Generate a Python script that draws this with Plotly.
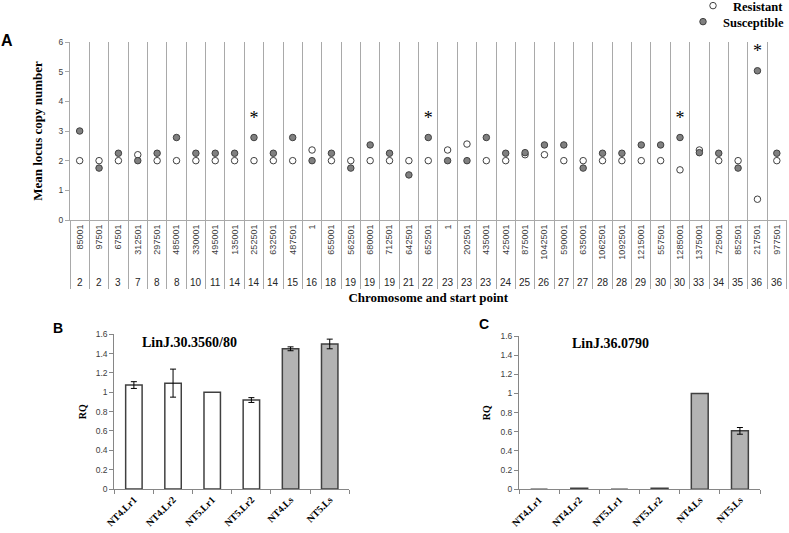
import numpy as np
import plotly.graph_objects as go

# ---------------- data ----------------
starts = ["85001", "97501", "67501", "312501", "297501", "485001", "330001", "495001",
          "135001", "252501", "632501", "487501", "1", "655001", "562501", "680001",
          "712501", "642501", "652501", "1", "202501", "435001", "425001", "875001",
          "1042501", "590001", "635001", "1062501", "1092501", "1215001", "557501",
          "1285001", "1375001", "725001", "852501", "217501", "977501"]
chromosomes = ["2", "2", "3", "7", "8", "8", "10", "11", "14", "14", "14", "15", "16",
               "18", "19", "19", "19", "21", "22", "23", "23", "23", "24", "25", "26",
               "27", "27", "28", "28", "29", "30", "30", "33", "34", "35", "36", "36"]
resistant = [2.0, 2.0, 2.0, 2.2, 2.0, 2.0, 2.0, 2.0, 2.0, 2.0, 2.0, 2.0, 2.36, 2.0, 2.0,
             2.0, 2.0, 2.0, 2.0, 2.36, 2.56, 2.0, 2.0, 2.2, 2.2, 2.0, 2.0, 2.0, 2.0, 2.0,
             2.0, 1.69, 2.36, 2.0, 2.0, 0.7, 2.0]
susceptible = [3.0, 1.75, 2.25, 2.0, 2.25, 2.78, 2.25, 2.25, 2.25, 2.78, 2.25, 2.78, 2.0,
               2.25, 1.75, 2.53, 2.25, 1.52, 2.78, 2.0, 2.0, 2.78, 2.25, 2.27, 2.53, 2.53,
               1.75, 2.25, 2.25, 2.53, 2.53, 2.78, 2.27, 2.25, 1.75, 5.03, 2.25]
significant = [9, 18, 31, 35]

samples = ["NT4.Lr1", "NT4.Lr2", "NT5.Lr1", "NT5.Lr2", "NT4.Ls", "NT5.Ls"]
rq_30 = [1.075, 1.095, 1.0, 0.92, 1.45, 1.5]
err_30 = [0.035, 0.145, None, 0.025, 0.02, 0.05]
rq_36 = [0.0, 0.01, 0.0, 0.01, 1.0, 0.61]
err_36 = [None, None, None, None, None, 0.035]
bar_colors = ["white", "white", "white", "white", "#b3b3b3", "#b3b3b3"]

# ---------------- helpers ----------------
W, H = 789, 533


def fx(p):
    return p / W


def fy(p):
    return 1 - p / H


def err_array(vals):
    # missing errors become NaN so no error bar is drawn for them
    return np.array([np.nan if v is None else v for v in vals], dtype=float)


SERIF = "Liberation Serif, Times New Roman, serif"
SANS = "Liberation Sans, Arial, sans-serif"
GRID = "#a9a9a9"
DARK = "#404040"
AXC = "#868686"

idx = list(range(len(starts)))

fig = go.Figure()

# ---------------- panel A ----------------
fig.add_trace(go.Scatter(
    x=idx, y=resistant, mode="markers", name="<b>Resistant</b>", legend="legend",
    marker=dict(symbol="circle", size=6.5, color="white", line=dict(color=DARK, width=1)),
    xaxis="x", yaxis="y"))
fig.add_trace(go.Scatter(
    x=idx, y=susceptible, mode="markers", name="<b>Susceptible</b>", legend="legend2",
    marker=dict(symbol="circle", size=6.5, color="#808080", line=dict(color=DARK, width=1)),
    xaxis="x", yaxis="y"))
fig.add_trace(go.Scatter(
    x=significant, y=[susceptible[i] + 0.62 for i in significant], mode="text",
    text=["*"] * len(significant), textfont=dict(family=SERIF, size=18, color="black"),
    showlegend=False, cliponaxis=False, xaxis="x", yaxis="y"))

# ---------------- panel B ----------------
fig.add_trace(go.Bar(
    x=samples, y=rq_30, width=0.42, showlegend=False,
    marker=dict(color=bar_colors, line=dict(color=DARK, width=1.5)),
    error_y=dict(type="data", array=err_array(err_30), color="black", thickness=1, width=3),
    xaxis="x2", yaxis="y2"))

# ---------------- panel C ----------------
fig.add_trace(go.Bar(
    x=samples, y=rq_36, width=0.42, showlegend=False,
    marker=dict(color=bar_colors, line=dict(color=DARK, width=1.5)),
    error_y=dict(type="data", array=err_array(err_36), color="black", thickness=1, width=3),
    xaxis="x3", yaxis="y3"))

bar_x_common = dict(type="category", tickson="boundaries", ticks="outside", ticklen=4,
                    tickcolor=AXC, showline=True, linecolor=AXC, linewidth=1,
                    tickangle=-45, showgrid=False, automargin=False,
                    tickfont=dict(family=SERIF, size=10, color="black", weight="bold"))
bar_y_common = dict(range=[0, 1.6], tick0=0, dtick=0.2, ticks="outside", ticklen=4,
                    tickcolor=AXC, showline=True, linecolor=AXC, linewidth=1,
                    showgrid=False, zeroline=False, automargin=False,
                    tickfont=dict(family=SANS, size=8.5, color=DARK),
                    title=dict(text="<b>RQ</b>", font=dict(family=SERIF, size=10, color="black"),
                               standoff=7))

legend_common = dict(xanchor="right", yanchor="middle",
                     font=dict(family=SERIF, size=12.5, color="black"),
                     itemwidth=30, bgcolor="rgba(0,0,0,0)", borderwidth=0)

fig.update_layout(
    template="none",
    width=W, height=H, margin=dict(l=0, r=0, t=0, b=0, autoexpand=False),
    paper_bgcolor="white", plot_bgcolor="white",
    showlegend=True, hovermode=False,
    legend=dict(x=1.0, y=fy(6), **legend_common),
    legend2=dict(x=1.0, y=fy(22), **legend_common),
    xaxis=dict(
        domain=[fx(70), fx(786.5)], range=[-0.5, len(starts) - 0.5], anchor="y",
        tickmode="array", tickvals=idx, ticktext=starts, tickangle=-90, ticks="",
        tickfont=dict(family=SANS, size=9, color=DARK), automargin=False,
        showgrid=False, zeroline=False, showline=True, linecolor=GRID, linewidth=1,
        minor=dict(tickmode="array", tickvals=[i - 0.5 for i in range(len(starts) + 1)],
                   ticks="outside", ticklen=68, tickcolor=GRID, tickwidth=1.2,
                   showgrid=True, gridcolor=GRID, gridwidth=1.2),
        title=dict(text="<b>Chromosome and start point</b>",
                   font=dict(family=SERIF, size=13, color="black"), standoff=34)),
    yaxis=dict(
        domain=[fy(220), fy(42)], range=[0, 6], anchor="x", automargin=False,
        tickmode="array", tickvals=[0, 1, 2, 3, 4, 5, 6], ticks="outside", ticklen=4,
        tickcolor=GRID, showline=True, linecolor=GRID, linewidth=1,
        showgrid=False, zeroline=False,
        tickfont=dict(family=SANS, size=8.5, color=DARK),
        title=dict(text="<b>Mean locus copy number</b>",
                   font=dict(family=SERIF, size=13, color="black"), standoff=13)),
    xaxis2=dict(domain=[fx(114.3), fx(349.3)], anchor="y2", **bar_x_common),
    yaxis2=dict(domain=[fy(489), fy(334.3)], anchor="x2", **bar_y_common),
    xaxis3=dict(domain=[fx(519), fx(760)], anchor="y3", **bar_x_common),
    yaxis3=dict(domain=[fy(489.3), fy(336)], anchor="x3", **bar_y_common),
    bargap=0.58,
)

annotations = []
for i, c in enumerate(chromosomes):
    annotations.append(dict(x=i, xref="x", y=fy(282), yref="paper", text=c,
                            xanchor="center", yanchor="middle", showarrow=False,
                            font=dict(family=SANS, size=10, color="#262626")))

annotations += [
    dict(x=fx(7), y=fy(41), xref="paper", yref="paper", text="<b>A</b>", showarrow=False,
         xanchor="center", yanchor="middle", font=dict(family=SANS, size=16, color="black")),
    dict(x=fx(58), y=fy(328), xref="paper", yref="paper", text="<b>B</b>", showarrow=False,
         xanchor="center", yanchor="middle", font=dict(family=SANS, size=14, color="black")),
    dict(x=fx(483.5), y=fy(324), xref="paper", yref="paper", text="<b>C</b>", showarrow=False,
         xanchor="center", yanchor="middle", font=dict(family=SANS, size=14, color="black")),
    dict(x=0.322, y=0.944, xref="x2 domain", yref="y2 domain", text="<b>LinJ.30.3560/80</b>",
         xanchor="center", yanchor="middle", showarrow=False,
         font=dict(family=SERIF, size=14, color="black")),
    dict(x=0.38, y=0.954, xref="x3 domain", yref="y3 domain", text="<b>LinJ.36.0790</b>",
         xanchor="center", yanchor="middle", showarrow=False,
         font=dict(family=SERIF, size=14, color="black")),
]
fig.update_layout(annotations=annotations)

# let the figure fill the window from its top-left corner (no default 8px body margin)
fig.write_html("out.html",
               config={"displayModeBar": False},
               post_script="document.body.style.margin='0px';document.body.style.overflow='hidden';")
